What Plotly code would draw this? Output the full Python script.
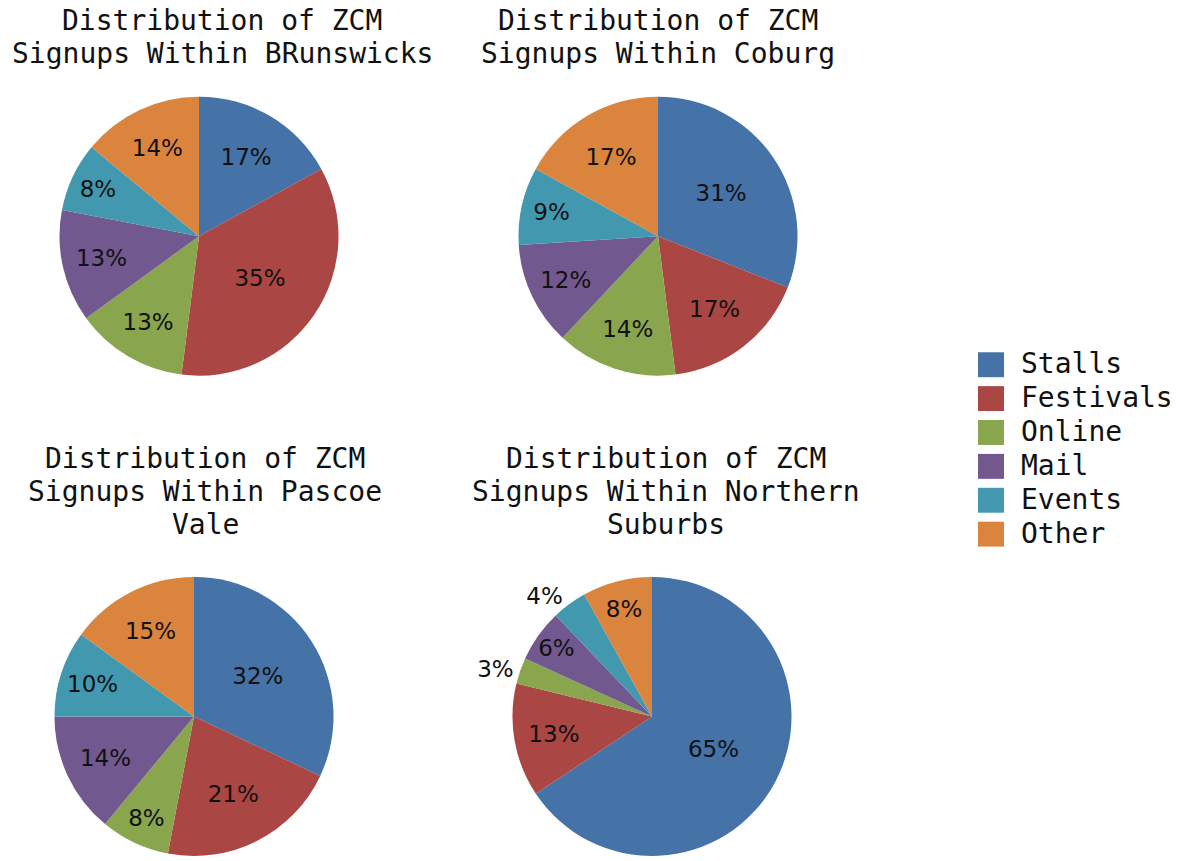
import plotly.graph_objects as go

W, H = 1180, 861

categories = ["Stalls", "Festivals", "Online", "Mail", "Events", "Other"]
colors = ["#4572A7", "#AA4643", "#89A54E", "#71588F", "#4198AF", "#DB843D"]

brunswick = [17, 35, 13, 13, 8, 14]
coburg = [31, 17, 14, 12, 9, 17]
pascoe_vale = [32, 21, 8, 14, 10, 15]
northern_suburbs = [65, 13, 3, 6, 4, 8]

titles = [
    ["Distribution of ZCM", "Signups Within BRunswicks"],
    ["Distribution of ZCM", "Signups Within Coburg"],
    ["Distribution of ZCM", "Signups Within Pascoe", "Vale"],
    ["Distribution of ZCM", "Signups Within Northern", "Suburbs"],
]

series = [brunswick, coburg, pascoe_vale, northern_suburbs]
text_pos = [
    ["inside"] * 6,
    ["inside"] * 6,
    ["inside"] * 6,
    ["inside", "inside", "outside", "inside", "outside", "inside"],
]

# layout (pixels): pie centers, radius, title centers and line baselines
centers = [(199, 237), (658, 237), (194, 719), (652, 719)]
R = 140
title_x = [222, 658, 205, 666]
title_y0 = [21, 21, 460, 460]
LINE = 33

MONO = "DejaVu Sans Mono"
LABEL_FONT = "DejaVu Sans"

fig = go.Figure()
for vals, pos, (cx, cy) in zip(series, text_pos, centers):
    fig.add_trace(go.Pie(
        labels=categories,
        values=vals,
        sort=False,
        direction="clockwise",
        rotation=0,
        marker=dict(colors=colors, line=dict(width=0)),
        texttemplate="%{value}%",
        textposition=pos,
        insidetextorientation="horizontal",
        textfont=dict(family=LABEL_FONT, size=23, color="#111111"),
        hoverinfo="label+value",
        showlegend=False,
        domain=dict(x=[(cx - R) / W, (cx + R) / W],
                    y=[1 - (cy + R) / H, 1 - (cy - R) / H]),
    ))

annotations = []
for lines, tx, ty in zip(titles, title_x, title_y0):
    for i, line in enumerate(lines):
        annotations.append(dict(
            text=line, x=tx / W, y=1 - (ty + i * LINE) / H,
            xref="paper", yref="paper", xanchor="center", yanchor="middle",
            showarrow=False,
            font=dict(family=MONO, size=28, color="#111111"),
        ))

# manual legend
shapes = []
leg_x, leg_y0, leg_step, sw_w, sw_h = 978, 366, 34, 26, 25
for i, (cat, col) in enumerate(zip(categories, colors)):
    yc = leg_y0 + i * leg_step
    shapes.append(dict(
        type="rect", xref="paper", yref="paper",
        x0=leg_x / W, x1=(leg_x + sw_w) / W,
        y0=1 - (yc + sw_h / 2) / H, y1=1 - (yc - sw_h / 2) / H,
        fillcolor=col, line=dict(width=0),
    ))
    annotations.append(dict(
        text=cat, x=1019 / W, y=1 - (yc - 1) / H,
        xref="paper", yref="paper", xanchor="left", yanchor="middle",
        showarrow=False,
        font=dict(family=MONO, size=28, color="#111111"),
    ))

fig.update_layout(
    width=W, height=H,
    margin=dict(l=0, r=0, t=0, b=0),
    paper_bgcolor="white",
    plot_bgcolor="white",
    annotations=annotations,
    shapes=shapes,
    uniformtext=dict(minsize=23, mode="show"),
)

fig.write_html("out.html")
